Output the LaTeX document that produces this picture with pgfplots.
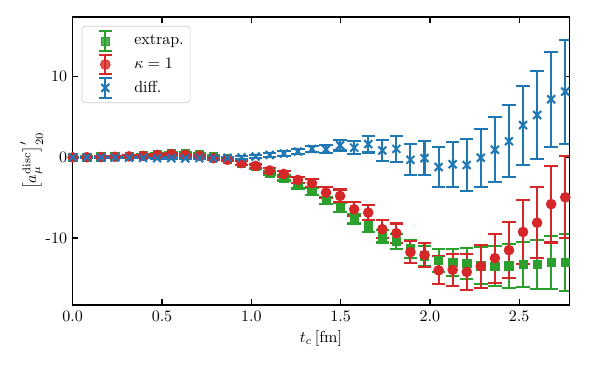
\documentclass[border=0pt]{standalone}
\usepackage{pgfplots}
\pgfplotsset{compat=1.18}
\usepackage{pgfplotstable}

\definecolor{tabblue}{HTML}{1F77B4}
\definecolor{tabred}{HTML}{D62728}
\definecolor{tabgreen}{HTML}{2CA02C}

\pgfplotstableread{
x y e
0.0000 0.00 0.08
0.0788 0.03 0.08
0.1576 0.06 0.09
0.2364 0.10 0.10
0.3152 0.17 0.11
0.3940 0.25 0.12
0.4728 0.40 0.13
0.5516 0.50 0.14
0.6304 0.45 0.15
0.7092 0.33 0.16
0.7880 0.05 0.18
0.8668 -0.20 0.20
0.9456 -0.70 0.22
1.0244 -1.15 0.25
1.1032 -1.93 0.28
1.1820 -2.55 0.32
1.2608 -3.50 0.36
1.3396 -4.25 0.42
1.4184 -5.35 0.48
1.4972 -6.20 0.55
1.5760 -7.60 0.60
1.6548 -8.50 0.70
1.7336 -9.75 0.80
1.8124 -10.40 0.95
1.8912 -11.35 1.10
1.9700 -12.20 1.25
2.0488 -12.80 1.45
2.1276 -13.05 1.65
2.2064 -13.15 1.90
2.2852 -13.45 2.30
2.3640 -13.50 2.50
2.4428 -13.45 2.70
2.5216 -13.25 2.80
2.6004 -13.30 3.00
2.6792 -13.05 3.25
2.7580 -13.05 3.55
}\extrap

\pgfplotstableread{
x y e
0.0000 0.00 0.08
0.0788 0.02 0.08
0.1576 0.04 0.09
0.2364 0.07 0.10
0.3152 0.12 0.11
0.3940 0.18 0.12
0.4728 0.30 0.13
0.5516 0.40 0.14
0.6304 0.32 0.15
0.7092 0.19 0.16
0.7880 -0.10 0.18
0.8668 -0.30 0.20
0.9456 -0.72 0.22
1.0244 -1.05 0.25
1.1032 -1.63 0.30
1.1820 -2.05 0.35
1.2608 -2.80 0.42
1.3396 -3.20 0.50
1.4184 -4.37 0.65
1.4972 -4.78 0.80
1.5760 -6.43 0.85
1.6548 -6.85 0.95
1.7336 -8.90 1.10
1.8124 -9.40 1.20
1.8912 -11.75 1.40
1.9700 -12.10 1.50
2.0488 -14.00 1.75
2.1276 -13.95 1.95
2.2064 -14.20 2.25
2.2852 -13.50 2.65
2.3640 -12.50 3.05
2.4428 -11.50 3.50
2.5216 -9.25 3.95
2.6004 -8.10 4.40
2.6792 -5.80 4.75
2.7580 -4.95 5.10
}\kappaone

\pgfplotstableread{
x y e
0.0000 0.00 0.05
0.0788 -0.01 0.05
0.1576 -0.02 0.05
0.2364 -0.03 0.05
0.3152 -0.05 0.06
0.3940 -0.07 0.06
0.4728 -0.10 0.07
0.5516 -0.10 0.08
0.6304 -0.13 0.09
0.7092 -0.10 0.10
0.7880 -0.10 0.11
0.8668 -0.05 0.13
0.9456 0.00 0.15
1.0244 0.10 0.18
1.1032 0.30 0.22
1.1820 0.48 0.27
1.2608 0.72 0.33
1.3396 1.05 0.40
1.4184 1.00 0.50
1.4972 1.50 0.65
1.5760 1.20 0.80
1.6548 1.65 1.05
1.7336 0.85 1.35
1.8124 1.05 1.65
1.8912 -0.30 1.90
1.9700 -0.10 2.10
2.0488 -1.20 2.50
2.1276 -0.85 2.80
2.2064 -0.95 3.20
2.2852 -0.05 3.60
2.3640 0.95 4.00
2.4428 2.00 4.45
2.5216 4.00 4.90
2.6004 5.25 5.45
2.6792 7.20 5.90
2.7580 8.15 6.45
}\diffdata

\pgfplotsset{
  errlegend/.style={legend image code/.code={
    \path[draw=none, fill=none] (0pt,-7.3pt) rectangle (21.2pt,7.3pt);
    \draw[##1, sharp corners, solid, line width=1.3pt] (10.6pt,-6.2pt) -- (10.6pt,6.2pt)
        (6.4pt,-6.2pt) -- (14.8pt,-6.2pt) (6.4pt,6.2pt) -- (14.8pt,6.2pt);
    \draw[##1, sharp corners] plot coordinates {(10.6pt,0pt)};
  }},
  myerr/.style={error bars/.cd, y dir=both, y explicit,
    error bar style={line width=1.3pt, solid},
    error mark options={line width=1.3pt, mark size=4.2pt, solid, rotate=90},
    /pgfplots/.cd},
}

\begin{document}
\begin{tikzpicture}
\useasboundingbox (-45.44pt,-37.5pt) rectangle ++(369.375pt,228.125pt);
\begin{axis}[
  at={(0,0)}, anchor=south west,
  scale only axis, width=310.3pt, height=180pt,
  xmin=0, xmax=2.78, ymin=-18.3, ymax=17.4,
  xtick={0,0.5,1,1.5,2,2.5}, xticklabels={0.0,0.5,1.0,1.5,2.0,2.5},
  ytick={-10,0,10}, yticklabels={-10,0,10},
  tick label style={font=\fontsize{10}{12}\selectfont},
  tick align=inside, major tick length=3.5pt,
  tick style={line width=0.8pt, black},
  axis line style={line width=0.8pt, black},
  xtick pos=both, ytick pos=both,
  every axis x label/.style={at={(axis description cs:0.5,0)}, anchor=center, yshift=-20.8pt, font=\fontsize{10}{12}\selectfont},
  every axis y label/.style={at={(axis description cs:-0.0825,0.5)}, anchor=center, rotate=90, font=\fontsize{10}{12}\selectfont},
  xlabel={$t_c\,[\mathrm{fm}]$},
  ylabel={$\left[a_{\mu}^{\mathrm{disc}}\right]'_{20}$},
  legend cell align=left,
  legend style={at={(0,1)}, anchor=north west, xshift=5.6pt, yshift=-5.6pt,
    draw=black!20, rounded corners=2pt, fill=white, fill opacity=0.8, text opacity=1,
    inner xsep=4pt, inner ysep=2pt, row sep=0pt,
    font=\fontsize{10}{12}\selectfont,
    nodes={inner sep=0pt},
    /tikz/every odd column/.append style={column sep=7.5pt}},
]
\addplot[tabgreen, only marks, mark=square*, mark size=2.6pt, errlegend, myerr]
  table[x=x, y=y, y error=e] {\extrap};
\addlegendentry{extrap.}
\addplot[tabred, only marks, mark=*, mark size=3.1pt, errlegend, myerr]
  table[x=x, y=y, y error=e] {\kappaone};
\addlegendentry{$\kappa=1$}
\addplot[tabblue, only marks, mark=x, mark size=3.5pt, mark options={line width=1.3pt}, errlegend, myerr]
  table[x=x, y=y, y error=e] {\diffdata};
\addlegendentry{diff.}
\end{axis}
\end{tikzpicture}
\end{document}
